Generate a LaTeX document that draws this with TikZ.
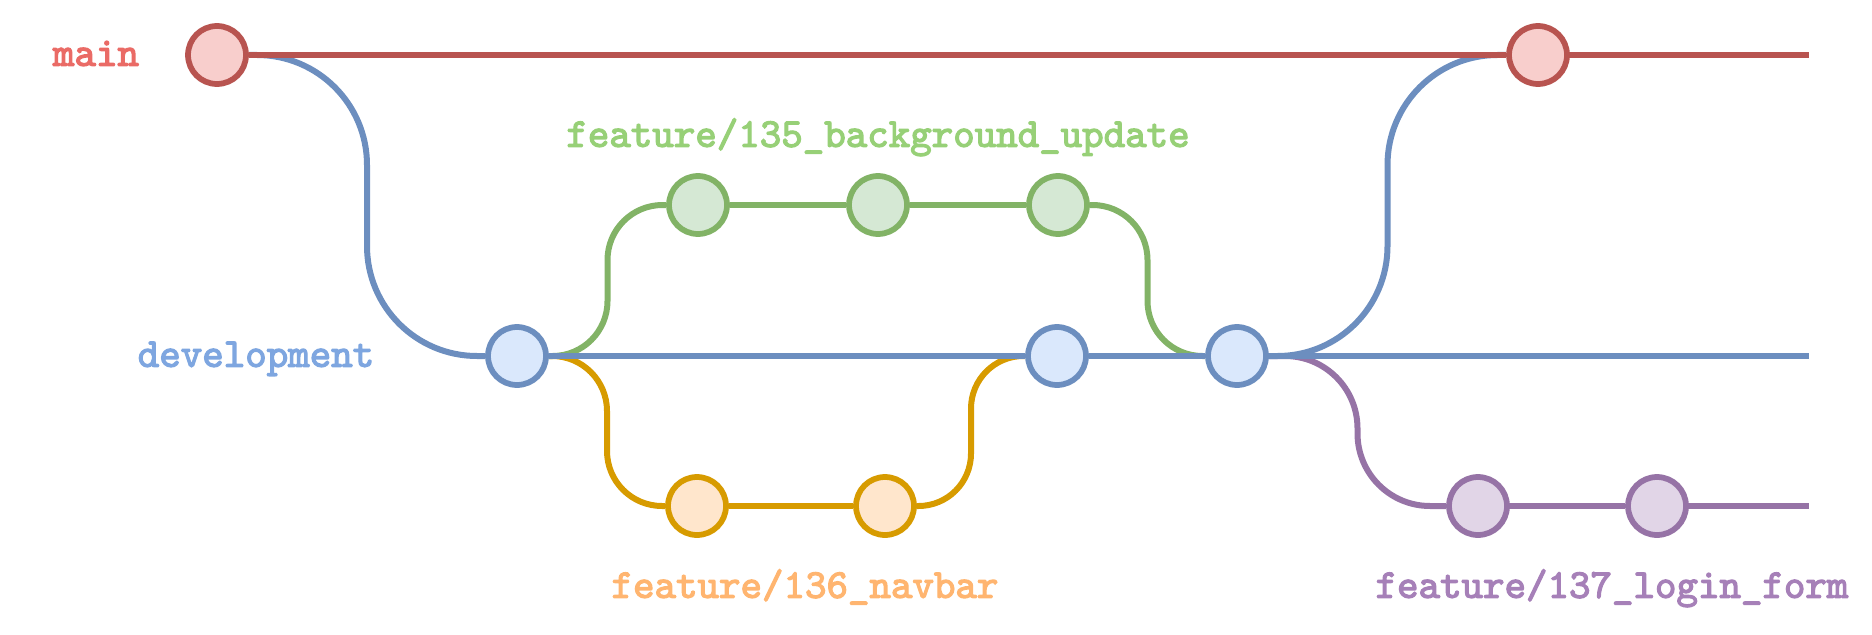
\documentclass[tikz,border=0pt]{standalone}
\usepackage{fontspec}
\setmonofont{lmmono10-regular.otf}[BoldFont=lmmono10-regular.otf,
  BoldFeatures={FakeBold=3}]
\definecolor{MainDark}{HTML}{B85450}
\definecolor{MainLight}{HTML}{F8CECC}
\definecolor{MainText}{HTML}{EA6B66}
\definecolor{DevDark}{HTML}{6C8EBF}
\definecolor{DevLight}{HTML}{DAE8FC}
\definecolor{DevText}{HTML}{7EA6E0}
\definecolor{BgDark}{HTML}{82B366}
\definecolor{BgLight}{HTML}{D5E8D4}
\definecolor{BgText}{HTML}{97D077}
\definecolor{NavDark}{HTML}{D79B00}
\definecolor{NavLight}{HTML}{FFE6CC}
\definecolor{NavText}{HTML}{FFB570}
\definecolor{LoginDark}{HTML}{9673A6}
\definecolor{LoginLight}{HTML}{E1D5E7}
\definecolor{LoginText}{HTML}{A680B8}
\usetikzlibrary{positioning,calc,backgrounds}

\begin{document}
\begin{tikzpicture}[
        x=0.02cm, y=-0.02cm,
        commit/.style={circle, draw=#1Dark, fill=#1Light, line width=0.115cm,
                       minimum size=1.16cm, inner sep=0pt},
        branch/.style={line width=0.12cm, #1Dark},
        lbl/.style={font=\ttfamily\bfseries\fontsize{23.3}{28}\selectfont,
                    anchor=mid, text=#1Text, inner sep=0pt}
      ]
        \useasboundingbox (0,0) rectangle (1872,635);
        % main
        \node[commit=Main] (m1) at (217,55) {};
        \node[commit=Main] (m2) at (1538,55) {};
        \coordinate (mend) at (1809,55);
        % development
        \node[commit=Dev] (d1) at (517,356) {};
        \node[commit=Dev] (d2) at (1057,356) {};
        \node[commit=Dev] (d3) at (1237,356) {};
        \coordinate (dend) at (1809,356);
        % feature/135
        \node[commit=Bg] (g1) at (698,205) {};
        \node[commit=Bg] (g2) at (878,205) {};
        \node[commit=Bg] (g3) at (1058,205) {};
        % feature/136
        \node[commit=Nav] (o1) at (697,506) {};
        \node[commit=Nav] (o2) at (885,506) {};
        % feature/137
        \node[commit=Login] (p1) at (1478,506) {};
        \node[commit=Login] (p2) at (1657,506) {};
        \coordinate (pend) at (1809,506);
        % branch names
        \node[lbl=Main] (lmain) at (96,62) {main};
        \node[lbl=Dev] (ldev) at (256,363) {development};
        \node[lbl=Bg] (lbg) at (878,143) {feature/135\_background\_update};
        \node[lbl=Nav] (lnav) at (805,594) {feature/136\_navbar};
        \node[lbl=Login] (llogin) at (1612,594) {feature/137\_login\_form};
        \begin{scope}[on background layer]
          % forks and merges
          \foreach \a/\b/\r/\c in {m1/d1/2.2/Dev, d1/g1/1.1/Bg, g3/d3/1.1/Bg,
                                   d1/o1/1.1/Nav, o2/d2/1.05/Nav,
                                   d3/m2/2.2/Dev, d3/p1/1.45/Login}{
            \coordinate (mid) at ($(\a.east)!.5!(\b.west)$);
            \draw[branch=\c, rounded corners=\r cm]
              (\a.east) -- (mid |- \a.east) -- (mid |- \b.west) -- (\b.west);
          }
          % straight runs
          \foreach \a/\b in {m1/m2, m2/mend}
            \draw[branch=Main] (\a)--(\b);
          \foreach \a/\b in {d1/d2, d2/d3, d3/dend}
            \draw[branch=Dev] (\a)--(\b);
          \foreach \a/\b in {g1/g2, g2/g3}
            \draw[branch=Bg] (\a)--(\b);
          \draw[branch=Nav] (o1)--(o2);
          \foreach \a/\b in {p1/p2, p2/pend}
            \draw[branch=Login] (\a)--(\b);
        \end{scope}
      \end{tikzpicture}
\end{document}
